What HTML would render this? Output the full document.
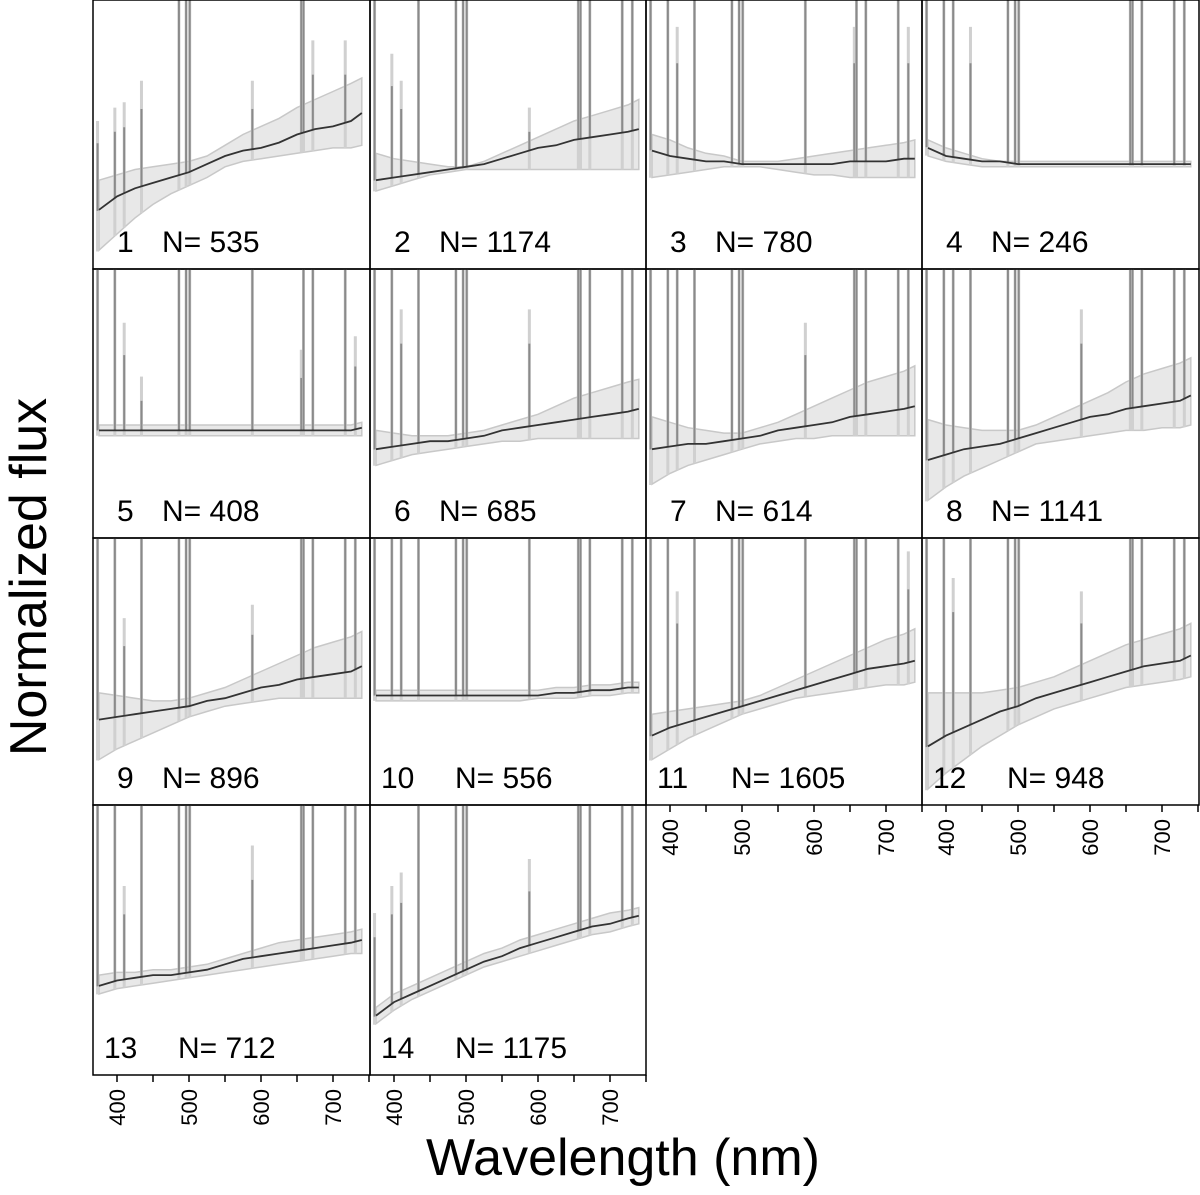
<!DOCTYPE html>
<html><head><meta charset="utf-8"><style>
html,body{margin:0;padding:0;background:#fff}
svg{display:block}
text{font-family:"Liberation Sans",sans-serif}
</style></head><body>
<svg id="fig" width="1200" height="1195" viewBox="0 0 1200 1195" xmlns="http://www.w3.org/2000/svg">
<text x="0" y="0" font-size="52" text-anchor="middle" transform="translate(46,577) rotate(-90)">Normalized flux</text>
<text x="623" y="1175" font-size="52" text-anchor="middle">Wavelength (nm)</text>
</svg>
<script>
// data
const waves = [375,400,425,450,475,500,525,550,575,600,625,650,675,700,725,740];
const panelIds = [1,2,3,4,5,6,7,8,9,10,11,12,13,14];
const panelN = [535,1174,780,246,408,685,614,1141,896,556,1605,948,712,1175];
// median, lower, upper (percent of panel height from bottom)
const med = [
 [22,27,30,32,34,36,39,42,44,45,47,50,52,53,55,58],
 [33,34,35,36,37,38,39,41,43,45,46,48,49,50,51,52],
 [44,42,41,40,40,39,39,39,39,39,39,40,40,40,41,41],
 [45,42,41,40,40,39,39,39,39,39,39,39,39,39,39,39],
 [40,40,40,40,40,40,40,40,40,40,40,40,40,40,40,41],
 [33,34,35,36,36,37,38,40,41,42,43,44,45,46,47,48],
 [33,34,35,35,36,37,38,40,41,42,43,45,46,47,48,49],
 [29,31,33,34,35,37,39,41,43,45,46,48,49,50,51,53],
 [32,33,34,35,36,37,39,40,42,44,45,47,48,49,50,52],
 [41,41,41,41,41,41,41,41,41,41,42,42,43,43,44,44],
 [26,29,31,33,35,37,39,41,43,45,47,49,51,52,53,54],
 [22,26,29,32,35,37,40,42,44,46,48,50,52,53,54,56],
 [33,35,36,37,37,38,39,41,43,44,45,46,47,48,49,50],
 [22,27,30,33,36,39,42,44,47,49,51,53,55,56,58,59]
];
const lo = [
 [7,13,19,24,28,31,34,38,40,41,42,43,44,45,45,46],
 [29,31,33,35,36,37,37,37,37,37,37,37,37,37,37,37],
 [34,35,36,37,38,38,38,37,36,35,35,34,34,34,34,34],
 [42,40,39,38,38,38,38,38,38,38,38,38,38,38,38,38],
 [38,38,38,38,38,38,38,38,38,38,38,38,38,38,38,38],
 [27,29,31,32,33,34,35,36,36,37,37,37,37,37,37,37],
 [20,24,27,29,31,33,35,36,37,37,38,38,38,38,38,38],
 [14,19,23,26,29,32,35,36,37,38,39,40,40,41,41,42],
 [17,21,24,27,30,33,35,37,38,39,40,40,40,40,40,40],
 [39,39,39,39,39,39,39,39,39,40,40,40,41,41,42,42],
 [17,21,25,28,31,34,36,38,40,41,42,43,44,45,45,46],
 [6,12,17,22,26,30,33,36,38,40,42,44,45,46,47,48],
 [30,32,33,34,35,36,37,38,39,40,41,42,43,44,45,45],
 [19,24,28,31,34,37,40,42,44,46,48,50,52,53,55,56]
];
const hi = [
 [33,35,37,38,39,40,42,46,50,53,56,60,63,66,69,71],
 [43,41,40,39,38,38,40,43,46,49,52,55,57,59,61,63],
 [50,48,45,43,42,40,40,40,41,42,43,44,45,46,47,48],
 [48,45,43,41,40,40,40,40,40,40,40,40,40,40,40,40],
 [42,42,42,42,42,42,42,42,42,42,42,42,42,42,42,43],
 [40,39,38,38,38,39,40,42,44,46,49,52,54,56,58,59],
 [45,43,41,40,39,39,41,43,46,49,52,55,58,60,62,64],
 [44,42,41,40,40,40,42,45,48,51,54,58,61,63,65,67],
 [42,41,40,39,39,40,42,44,47,50,53,56,59,61,63,65],
 [43,43,43,43,43,43,43,43,43,43,44,44,45,45,46,46],
 [34,35,36,37,38,39,41,44,47,50,53,56,59,62,64,66],
 [42,42,42,42,43,44,46,48,51,54,57,60,62,64,66,68],
 [37,38,38,39,39,40,41,43,45,47,49,50,51,52,53,54],
 [25,30,33,36,39,42,45,47,50,52,54,56,58,60,61,62]
];
const lineWaves = [373,397,410,434,486,496,501,588,656,659,672,717,731];
const lineTops = [
 [55,60,62,70,100,100,100,70,100,100,85,85,0],
 [100,80,70,100,100,100,100,60,100,100,100,100,100],
 [100,100,90,100,100,100,100,100,90,100,100,100,90],
 [100,100,100,90,100,100,100,0,100,100,100,100,100],
 [100,100,80,60,100,100,100,100,70,100,100,100,75],
 [100,100,85,100,100,100,100,85,100,100,100,100,100],
 [100,100,100,100,100,100,100,80,100,100,100,100,100],
 [100,100,100,100,100,100,100,85,100,100,100,100,100],
 [100,100,70,100,100,100,100,75,100,100,100,100,100],
 [100,100,100,100,100,100,100,100,100,100,100,100,100],
 [100,100,80,100,100,100,100,100,100,100,100,100,95],
 [100,100,85,100,100,100,100,80,100,100,100,100,100],
 [100,100,70,100,100,100,100,85,100,100,100,100,100],
 [60,70,75,100,100,100,100,80,100,100,100,100,100]
];
const tickLabels = [400,500,600,700];

const NS="http://www.w3.org/2000/svg";
const svg=document.getElementById('fig');
const colX=[93,370,646,922,1199];
const rowY=[0,269,538,805,1075];
function mk(tag,attrs,parent){const e=document.createElementNS(NS,tag);for(const k in attrs)e.setAttribute(k,attrs[k]);(parent||svg).appendChild(e);return e;}
function xs(x0){return w=>x0+24+(w-400)*0.72;}

panelIds.forEach((id,i)=>{
  const c=i%4,r=Math.floor(i/4);
  const x0=colX[c],x1=colX[c+1],y0=rowY[r],y1=rowY[r+1],h=y1-y0;
  const X=xs(x0), Y=v=>y1-v/100*h;
  const g=mk('g',{});
  
  
  const clipId='clip'+id;
  const cp=mk('clipPath',{id:clipId},g);
  mk('rect',{x:x0,y:y0,width:x1-x0,height:h},cp);
  const inner=mk('g',{'clip-path':'url(#'+clipId+')'},g);
  let d='';
  waves.forEach((w,k)=>{d+=(k?'L':'M')+X(w).toFixed(1)+','+Y(hi[i][k]).toFixed(1);});
  for(let k=waves.length-1;k>=0;k--)d+='L'+X(waves[k]).toFixed(1)+','+Y(lo[i][k]).toFixed(1);
  const band=mk('path',{d:d+'Z',fill:'#e8e8e8',stroke:'#c8c8c8','stroke-width':1.5},inner);
  
  
  lineWaves.forEach((w,k)=>{
    const t=lineTops[i][k]; if(!t)return;
    const kk=Math.min(waves.length-2,Math.max(0,Math.floor((w-375)/25)));
    const f=(w-waves[kk])/25;
    const base=lo[i][kk]+(lo[i][kk+1]-lo[i][kk])*f;
    const l1=mk('line',{x1:X(w),x2:X(w),y1:Y(base),y2:Y(t>=100?110:t),stroke:'#d0d0d0','stroke-width':3},inner);
    
    
    const m=med[i][kk]+(med[i][kk+1]-med[i][kk])*f;
    mk('line',{x1:X(w),x2:X(w),y1:Y(m),y2:Y(t>=100?110:t*0.85),stroke:'#8a8a8a','stroke-width':2},inner);
  });
  let dm='';
  waves.forEach((w,k)=>{dm+=(k?'L':'M')+X(w).toFixed(1)+','+Y(med[i][k]).toFixed(1);});
  const ml=mk('path',{d:dm,fill:'none',stroke:'#333','stroke-width':1.8},inner);
  
  
  mk('rect',{x:x0,y:y0,width:x1-x0,height:h,fill:'none',stroke:'#000','stroke-width':1.5},g);
  const lb=mk('text',{x:x0+(id>9?11:24),y:y1-17,'font-size':30},g);
  lb.textContent=String(id);
  
  
  const ln=mk('text',{x:x0+(id>9?85:69),y:y1-17,'font-size':30},g);
  ln.textContent='N= '+panelN[i];
  
  
  const bottom = (c<2 && r===3) || (c>=2 && r===2);
  if(bottom){
    const ax=mk('g',{},g);
    
    
    for(let w=400;w<=750;w+=50){
      if(X(w)>x1+1)break;
      mk('line',{x1:X(w),x2:X(w),y1:y1,y2:y1+7,stroke:'#000','stroke-width':1.5},ax);
    }
    tickLabels.forEach(t=>{
      const tx=mk('text',{x:0,y:0,'font-size':22,'text-anchor':'end',transform:'translate('+(X(t)+8)+','+(y1+14)+') rotate(-90)'},ax);
      tx.textContent=t;
      
      
    });
  }
});
</script>
</body></html>
